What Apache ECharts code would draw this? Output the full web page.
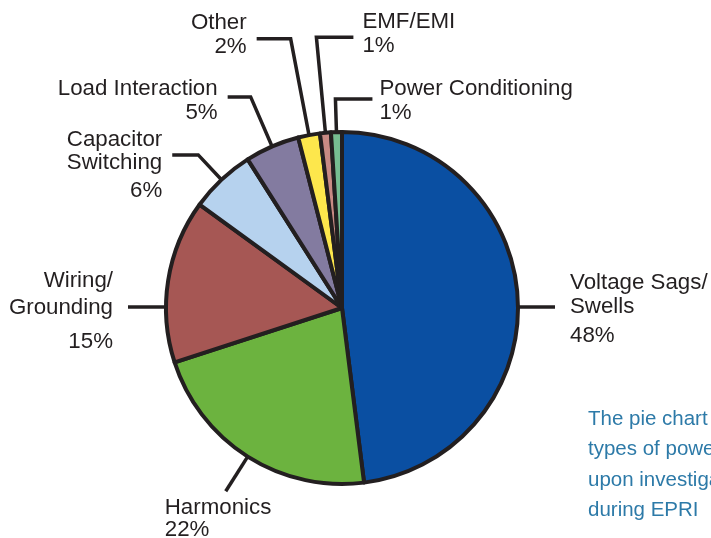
<!DOCTYPE html>
<html>
<head>
<meta charset="utf-8">
<script src="https://cdn.jsdelivr.net/npm/echarts@6/dist/echarts.min.js"></script>
<style>
  html, body { margin: 0; padding: 0; background: #ffffff; }
  #chart { width: 711px; height: 538px; }
</style>
</head>
<body>
<div id="chart"></div>
<script>
// Categories of power quality problems and their shares (percent)
const categories = [
  'Voltage Sags/\nSwells',
  'Harmonics',
  'Wiring/\nGrounding',
  'Capacitor\nSwitching',
  'Load Interaction',
  'Other',
  'EMF/EMI',
  'Power Conditioning'
];
const shares = [48, 22, 15, 6, 5, 2, 1, 1];
const sliceColors = ['#0a4fa2', '#6cb33f', '#a65754', '#b6d2ee', '#837ba0', '#fde74c', '#c98a84', '#76bd91'];
const noteLines = ['The pie chart', 'types of power', 'upon investigation', 'during EPRI'];

const INK = '#231f20';
const FONT = '"Liberation Sans", Arial, Helvetica, sans-serif';
const FS = 22.3;
const CENTER = [342, 308];
const RADIUS = 176;

// Leader-line shape per slice: side = anchor at the circle's left/right extreme,
// otherwise the line leaves radially from the middle of the slice.
const leaders = [
  { side: 1,  len: 0,  len2: 37,  dx: 15,  dy: -36,   align: 'left',  lh: 24, plh: 34 },
  {           len: 41, len2: 0,   dx: -61, dy: 5.5,   align: 'left',  lh: 22, plh: 22 },
  { side: -1, len: 0,  len2: -38, dx: -15, dy: -39.5, align: 'right', lh: 27, plh: 41 },
  {           len: 34, len2: -26, dx: -10, dy: -27,   align: 'right', lh: 23, plh: 33 },
  {           len: 54, len2: -23, dx: -10, dy: -20.5, align: 'right', lh: 24, plh: 24 },
  {           len: 98, len2: -34, dx: -10, dy: -28.5, align: 'right', lh: 24, plh: 24 },
  {           len: 96, len2: 37,  dx: 9,   dy: -27.5, align: 'left',  lh: 24, plh: 24 },
  {           len: 33, len2: 37,  dx: 7,   dy: -22.5, align: 'left',  lh: 24, plh: 24 }
];

const chart = echarts.init(document.getElementById('chart'), null, { renderer: 'canvas' });

const pieData = categories.map(function (name, i) {
  return {
    name: name,
    value: shares[i],
    itemStyle: { color: sliceColors[i] },
    label: {
      rich: {
        n: { fontSize: FS, lineHeight: leaders[i].lh, color: INK, fontFamily: FONT, align: leaders[i].align },
        p: { fontSize: FS, lineHeight: leaders[i].plh, color: INK, fontFamily: FONT, align: leaders[i].align }
      }
    }
  };
});

function sliceAnchor(i, params) {
  const cfg = leaders[i];
  if (cfg.side) {
    return { p0: [CENTER[0] + cfg.side * RADIUS, CENTER[1] - 1], dir: [cfg.side, 0] };
  }
  try {
    const lay = chart.getModel().getSeriesByIndex(0).getData().getItemLayout(i);
    const mid = (lay.startAngle + lay.endAngle) / 2;
    const dir = [Math.cos(mid), Math.sin(mid)];
    return { p0: [lay.cx + lay.r * dir[0], lay.cy + lay.r * dir[1]], dir: dir };
  } catch (e) {
    const pts = params.labelLinePoints;
    const vx = pts[1][0] - pts[0][0], vy = pts[1][1] - pts[0][1];
    const l = Math.sqrt(vx * vx + vy * vy) || 1;
    return { p0: pts[0], dir: [vx / l, vy / l] };
  }
}

chart.setOption({
  animation: false,
  backgroundColor: '#ffffff',
  series: [{
    type: 'pie',
    center: CENTER,
    radius: RADIUS,
    startAngle: 90,
    clockwise: true,
    avoidLabelOverlap: false,
    silent: true,
    emphasis: { disabled: true },
    itemStyle: { borderColor: INK, borderWidth: 4 },
    label: {
      show: true,
      position: 'outside',
      formatter: function (p) { return '{n|' + p.name + '}\n{p|' + p.value + '%}'; },
      color: INK,
      fontFamily: FONT,
      fontSize: FS
    },
    labelLine: {
      show: true,
      length: 20,
      length2: 20,
      smooth: false,
      lineStyle: { color: INK, width: 3.5 }
    },
    labelLayout: function (params) {
      const i = params.dataIndex;
      const cfg = leaders[i];
      const a = sliceAnchor(i, params);
      const p1 = [a.p0[0] + a.dir[0] * cfg.len, a.p0[1] + a.dir[1] * cfg.len];
      const p2 = [p1[0] + cfg.len2, p1[1]];
      return {
        x: p2[0] + cfg.dx,
        y: p2[1] + cfg.dy,
        align: cfg.align,
        verticalAlign: 'top',
        labelLinePoints: [a.p0, p1, p2]
      };
    },
    data: pieData
  }],
  graphic: [{
    type: 'text',
    left: 588,
    top: 404,
    silent: true,
    style: {
      text: noteLines.join('\n'),
      fill: '#2d7aa8',
      fontFamily: FONT,
      fontSize: 20.5,
      lineHeight: 30.5
    }
  }]
});
</script>
</body>
</html>
